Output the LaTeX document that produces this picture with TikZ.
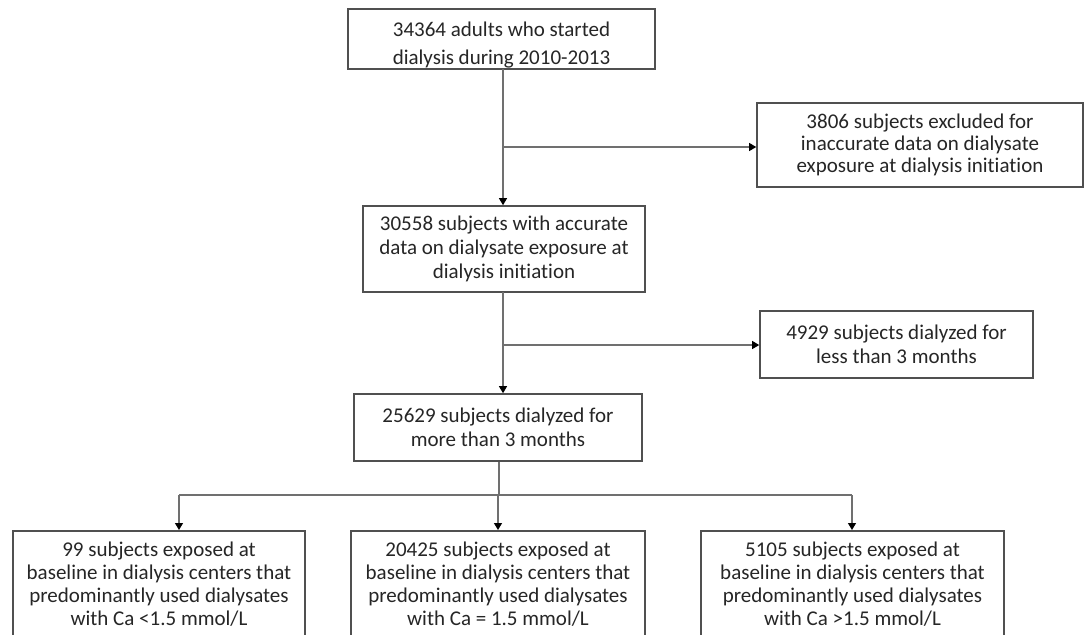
\documentclass[tikz,border=0pt]{standalone}
\usepackage{fontspec}
\setmainfont[Ligatures=NoCommon]{Carlito}
\usetikzlibrary{arrows.meta}
\definecolor{boxgray}{HTML}{505050}
\definecolor{linegray}{HTML}{707070}
\definecolor{textgray}{HTML}{262626}
\tikzset{
  box/.style={draw=boxgray, line width=1.6pt, fill=white, align=center, text=textgray,
    inner sep=0pt, font=\fontsize{21}{23}\selectfont},
  conn/.style={draw=linegray, line width=1.2pt},
  arr/.style={conn, -{Triangle[width=8pt,length=7pt,color=black]}}
}
\begin{document}
\begin{tikzpicture}[x=1pt,y=-1pt]
\clip (0,0) rectangle (1086,634);
\fill[white] (0,0) rectangle (1086,634);
\node[box, minimum width=307pt, minimum height=60pt, font=\fontsize{21}{28}\selectfont] (top) at (501.5,39) {\rule{0pt}{26pt}34364 adults who started\\dialysis during 2010-2013};
\node[box, minimum width=326pt, minimum height=84pt, font=\fontsize{21}{22}\selectfont] (ex1) at (920,145) {3806 subjects excluded for\\inaccurate data on dialysate\\exposure at dialysis initiation};
\node[box, minimum width=282pt, minimum height=86pt, font=\fontsize{21}{24}\selectfont] (b2) at (504,249) {30558 subjects with accurate\\data on dialysate exposure at\\dialysis initiation};
\node[box, minimum width=273pt, minimum height=67pt, font=\fontsize{21}{24}\selectfont] (ex2) at (896.5,344.5) {4929 subjects dialyzed for\\less than 3 months};
\node[box, minimum width=288pt, minimum height=67pt, font=\fontsize{21}{24}\selectfont] (b3) at (498,427.5) {25629 subjects dialyzed for\\more than 3 months};
\node[box, minimum width=292pt, minimum height=107pt, anchor=north] (L) at (159,530) {99 subjects exposed at\\baseline in dialysis centers that\\predominantly used dialysates\\with Ca <1.5 mmol/L};
\node[box, minimum width=294pt, minimum height=107pt, anchor=north] (M) at (498,530) {20425 subjects exposed at\\baseline in dialysis centers that\\predominantly used dialysates\\with Ca = 1.5 mmol/L};
\node[box, minimum width=303pt, minimum height=107pt, anchor=north] (R) at (852.5,530) {5105 subjects exposed at\\baseline in dialysis centers that\\predominantly used dialysates\\with Ca >1.5 mmol/L};
% connectors
\coordinate (v1) at (503,69);
\draw[arr] (v1) -- (v1 |- b2.north);
\coordinate (j1) at (503,147);
\draw[arr] (j1) -- (j1 -| ex1.west);
\coordinate (v2) at (503,292);
\draw[arr] (v2) -- (v2 |- b3.north);
\coordinate (j2) at (503,345);
\draw[arr] (j2) -- (j2 -| ex2.west);
\coordinate (s) at (499,495);
\coordinate (hl) at (179,495);
\coordinate (hr) at (852,495);
\coordinate (hm) at (498,495);
\draw[conn] (b3.south -| s) -- (s);
\draw[conn] (hl) -- (hr);
\draw[arr] (hl) -- (hl |- L.north);
\draw[arr] (hm) -- (hm |- M.north);
\draw[arr] (hr) -- (hr |- R.north);
\end{tikzpicture}
\end{document}
